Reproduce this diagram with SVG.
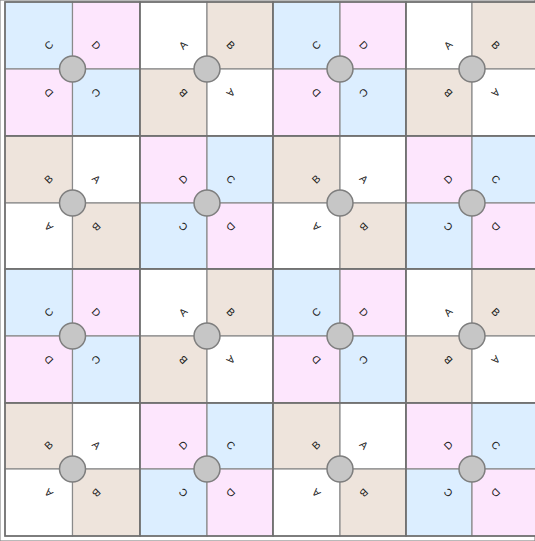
<svg xmlns="http://www.w3.org/2000/svg" width="535" height="541" viewBox="0 0 535 541">
<style>
rect{stroke:#8a8a8a;stroke-width:1.2}
.b{fill:#dceeff}.p{fill:#fde6fd}.t{fill:#eee4dc}.w{fill:#ffffff}
.o{fill:none;stroke:#6e6e6e;stroke-width:1.6}
text{font-family:"Liberation Sans",Arial,sans-serif;font-size:10.5px;fill:#222;text-anchor:middle;dominant-baseline:central}
circle{fill:#c6c6c6;stroke:#7e7e7e;stroke-width:1.5}
</style>
<rect x="0" y="0" width="535" height="541" fill="#fff" stroke="none"/>
<g id="tiles">
<g id="tile-r0c0"><rect class="b" x="5" y="2" width="67.5" height="67"/><rect class="p" x="72.5" y="2" width="67.5" height="67"/><rect class="p" x="5" y="69" width="67.5" height="67"/><rect class="b" x="72.5" y="69" width="67.5" height="67"/><rect class="o" x="5" y="2" width="135" height="134"/><text transform="translate(48.5 45) rotate(-45)">C</text><text transform="translate(96.5 45) rotate(45)">D</text><text transform="translate(48.5 93) rotate(-135)">D</text><text transform="translate(96.5 93) rotate(135)">C</text><circle cx="72.5" cy="69" r="13"/></g>
<g id="tile-r0c1"><rect class="w" x="140" y="2" width="67" height="67"/><rect class="t" x="207" y="2" width="66" height="67"/><rect class="t" x="140" y="69" width="67" height="67"/><rect class="w" x="207" y="69" width="66" height="67"/><rect class="o" x="140" y="2" width="133" height="134"/><text transform="translate(183 45) rotate(-45)">A</text><text transform="translate(231 45) rotate(45)">B</text><text transform="translate(183 93) rotate(-135)">B</text><text transform="translate(231 93) rotate(135)">A</text><circle cx="207" cy="69" r="13"/></g>
<g id="tile-r0c2"><rect class="b" x="273" y="2" width="67" height="67"/><rect class="p" x="340" y="2" width="66" height="67"/><rect class="p" x="273" y="69" width="67" height="67"/><rect class="b" x="340" y="69" width="66" height="67"/><rect class="o" x="273" y="2" width="133" height="134"/><text transform="translate(316 45) rotate(-45)">C</text><text transform="translate(364 45) rotate(45)">D</text><text transform="translate(316 93) rotate(-135)">D</text><text transform="translate(364 93) rotate(135)">C</text><circle cx="340" cy="69" r="13"/></g>
<g id="tile-r0c3"><rect class="w" x="406" y="2" width="66" height="67"/><rect class="t" x="472" y="2" width="68" height="67"/><rect class="t" x="406" y="69" width="66" height="67"/><rect class="w" x="472" y="69" width="68" height="67"/><rect class="o" x="406" y="2" width="134" height="134"/><text transform="translate(448 45) rotate(-45)">A</text><text transform="translate(496 45) rotate(45)">B</text><text transform="translate(448 93) rotate(-135)">B</text><text transform="translate(496 93) rotate(135)">A</text><circle cx="472" cy="69" r="13"/></g>

<g id="tile-r1c0"><rect class="t" x="5" y="136" width="67.5" height="67"/><rect class="w" x="72.5" y="136" width="67.5" height="67"/><rect class="w" x="5" y="203" width="67.5" height="66"/><rect class="t" x="72.5" y="203" width="67.5" height="66"/><rect class="o" x="5" y="136" width="135" height="133"/><text transform="translate(48.5 179) rotate(-45)">B</text><text transform="translate(96.5 179) rotate(45)">A</text><text transform="translate(48.5 227) rotate(-135)">A</text><text transform="translate(96.5 227) rotate(135)">B</text><circle cx="72.5" cy="203" r="13"/></g>
<g id="tile-r1c1"><rect class="p" x="140" y="136" width="67" height="67"/><rect class="b" x="207" y="136" width="66" height="67"/><rect class="b" x="140" y="203" width="67" height="66"/><rect class="p" x="207" y="203" width="66" height="66"/><rect class="o" x="140" y="136" width="133" height="133"/><text transform="translate(183 179) rotate(-45)">D</text><text transform="translate(231 179) rotate(45)">C</text><text transform="translate(183 227) rotate(-135)">C</text><text transform="translate(231 227) rotate(135)">D</text><circle cx="207" cy="203" r="13"/></g>
<g id="tile-r1c2"><rect class="t" x="273" y="136" width="67" height="67"/><rect class="w" x="340" y="136" width="66" height="67"/><rect class="w" x="273" y="203" width="67" height="66"/><rect class="t" x="340" y="203" width="66" height="66"/><rect class="o" x="273" y="136" width="133" height="133"/><text transform="translate(316 179) rotate(-45)">B</text><text transform="translate(364 179) rotate(45)">A</text><text transform="translate(316 227) rotate(-135)">A</text><text transform="translate(364 227) rotate(135)">B</text><circle cx="340" cy="203" r="13"/></g>
<g id="tile-r1c3"><rect class="p" x="406" y="136" width="66" height="67"/><rect class="b" x="472" y="136" width="68" height="67"/><rect class="b" x="406" y="203" width="66" height="66"/><rect class="p" x="472" y="203" width="68" height="66"/><rect class="o" x="406" y="136" width="134" height="133"/><text transform="translate(448 179) rotate(-45)">D</text><text transform="translate(496 179) rotate(45)">C</text><text transform="translate(448 227) rotate(-135)">C</text><text transform="translate(496 227) rotate(135)">D</text><circle cx="472" cy="203" r="13"/></g>

<g id="tile-r2c0"><rect class="b" x="5" y="269" width="67.5" height="67"/><rect class="p" x="72.5" y="269" width="67.5" height="67"/><rect class="p" x="5" y="336" width="67.5" height="67"/><rect class="b" x="72.5" y="336" width="67.5" height="67"/><rect class="o" x="5" y="269" width="135" height="134"/><text transform="translate(48.5 312) rotate(-45)">C</text><text transform="translate(96.5 312) rotate(45)">D</text><text transform="translate(48.5 360) rotate(-135)">D</text><text transform="translate(96.5 360) rotate(135)">C</text><circle cx="72.5" cy="336" r="13"/></g>
<g id="tile-r2c1"><rect class="w" x="140" y="269" width="67" height="67"/><rect class="t" x="207" y="269" width="66" height="67"/><rect class="t" x="140" y="336" width="67" height="67"/><rect class="w" x="207" y="336" width="66" height="67"/><rect class="o" x="140" y="269" width="133" height="134"/><text transform="translate(183 312) rotate(-45)">A</text><text transform="translate(231 312) rotate(45)">B</text><text transform="translate(183 360) rotate(-135)">B</text><text transform="translate(231 360) rotate(135)">A</text><circle cx="207" cy="336" r="13"/></g>
<g id="tile-r2c2"><rect class="b" x="273" y="269" width="67" height="67"/><rect class="p" x="340" y="269" width="66" height="67"/><rect class="p" x="273" y="336" width="67" height="67"/><rect class="b" x="340" y="336" width="66" height="67"/><rect class="o" x="273" y="269" width="133" height="134"/><text transform="translate(316 312) rotate(-45)">C</text><text transform="translate(364 312) rotate(45)">D</text><text transform="translate(316 360) rotate(-135)">D</text><text transform="translate(364 360) rotate(135)">C</text><circle cx="340" cy="336" r="13"/></g>
<g id="tile-r2c3"><rect class="w" x="406" y="269" width="66" height="67"/><rect class="t" x="472" y="269" width="68" height="67"/><rect class="t" x="406" y="336" width="66" height="67"/><rect class="w" x="472" y="336" width="68" height="67"/><rect class="o" x="406" y="269" width="134" height="134"/><text transform="translate(448 312) rotate(-45)">A</text><text transform="translate(496 312) rotate(45)">B</text><text transform="translate(448 360) rotate(-135)">B</text><text transform="translate(496 360) rotate(135)">A</text><circle cx="472" cy="336" r="13"/></g>

<g id="tile-r3c0"><rect class="t" x="5" y="403" width="67.5" height="66"/><rect class="w" x="72.5" y="403" width="67.5" height="66"/><rect class="w" x="5" y="469" width="67.5" height="67"/><rect class="t" x="72.5" y="469" width="67.5" height="67"/><rect class="o" x="5" y="403" width="135" height="133"/><text transform="translate(48.5 445) rotate(-45)">B</text><text transform="translate(96.5 445) rotate(45)">A</text><text transform="translate(48.5 493) rotate(-135)">A</text><text transform="translate(96.5 493) rotate(135)">B</text><circle cx="72.5" cy="469" r="13"/></g>
<g id="tile-r3c1"><rect class="p" x="140" y="403" width="67" height="66"/><rect class="b" x="207" y="403" width="66" height="66"/><rect class="b" x="140" y="469" width="67" height="67"/><rect class="p" x="207" y="469" width="66" height="67"/><rect class="o" x="140" y="403" width="133" height="133"/><text transform="translate(183 445) rotate(-45)">D</text><text transform="translate(231 445) rotate(45)">C</text><text transform="translate(183 493) rotate(-135)">C</text><text transform="translate(231 493) rotate(135)">D</text><circle cx="207" cy="469" r="13"/></g>
<g id="tile-r3c2"><rect class="t" x="273" y="403" width="67" height="66"/><rect class="w" x="340" y="403" width="66" height="66"/><rect class="w" x="273" y="469" width="67" height="67"/><rect class="t" x="340" y="469" width="66" height="67"/><rect class="o" x="273" y="403" width="133" height="133"/><text transform="translate(316 445) rotate(-45)">B</text><text transform="translate(364 445) rotate(45)">A</text><text transform="translate(316 493) rotate(-135)">A</text><text transform="translate(364 493) rotate(135)">B</text><circle cx="340" cy="469" r="13"/></g>
<g id="tile-r3c3"><rect class="p" x="406" y="403" width="66" height="66"/><rect class="b" x="472" y="403" width="68" height="66"/><rect class="b" x="406" y="469" width="66" height="67"/><rect class="p" x="472" y="469" width="68" height="67"/><rect class="o" x="406" y="403" width="134" height="133"/><text transform="translate(448 445) rotate(-45)">D</text><text transform="translate(496 445) rotate(45)">C</text><text transform="translate(448 493) rotate(-135)">C</text><text transform="translate(496 493) rotate(135)">D</text><circle cx="472" cy="469" r="13"/></g>
</g>
<g id="connectors"></g>
</svg>
